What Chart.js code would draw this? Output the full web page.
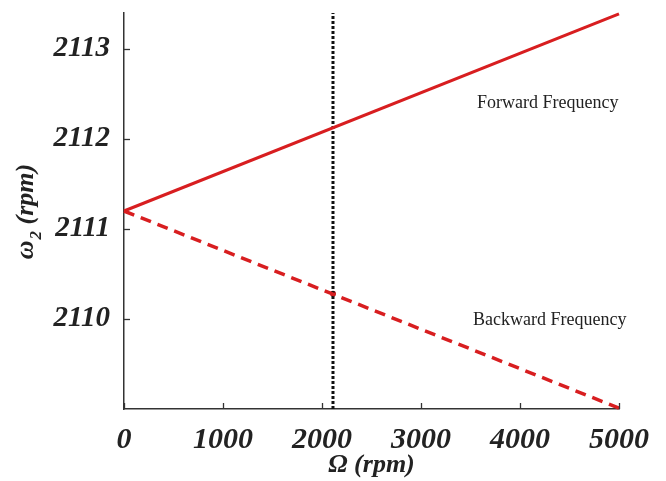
<!DOCTYPE html>
<html>
<head>
<meta charset="utf-8">
<script src="https://cdn.jsdelivr.net/npm/chart.js@4.4.1/dist/chart.umd.min.js"></script>
<style>
  html, body { margin: 0; padding: 0; background: #fff; }
  #wrap { width: 666px; height: 481px; }
</style>
</head>
<body>
<div id="wrap"><canvas id="chart" width="666" height="481"></canvas></div>
<script>
// values
const speed = [0, 5000];                 // Ω (rpm)
const forward = [2111.2, 2113.39];       // forward whirl ω2
const backward = [2111.2, 2109.01];      // backward whirl ω2
const critSpeed = 2111;                  // Ω = ω line
const critBackward = 2110.28;
const yRange = [2109.0, 2113.4];
const xTicks = [0, 1000, 2000, 3000, 4000, 5000];
const yTicks = [2110, 2111, 2112, 2113];

const serif = '"Liberation Serif", "Times New Roman", serif';
const red = "rgb(216,30,32)";

// ticks drawn inside the axes, texts and y title
const extras = {
  id: "extras",
  afterDraw(c) {
    const g = c.ctx, x = c.scales.x, y = c.scales.y;
    const a = c.chartArea;
    g.save();
    g.strokeStyle = "#333";
    g.lineWidth = 1.3;
    xTicks.forEach(v => {
      const px = Math.round(x.getPixelForValue(v)) + 0.5;
      g.beginPath(); g.moveTo(px, a.bottom); g.lineTo(px, a.bottom - 6); g.stroke();
    });
    yTicks.forEach(v => {
      const py = Math.round(y.getPixelForValue(v)) + 0.5;
      g.beginPath(); g.moveTo(a.left, py); g.lineTo(a.left + 6, py); g.stroke();
    });

    g.fillStyle = "#222";
    g.font = "18px " + serif;
    g.textBaseline = "middle";
    g.textAlign = "left";
    g.fillText("Forward Frequency", x.getPixelForValue(3565), y.getPixelForValue(2112.4));
    g.fillText("Backward Frequency", x.getPixelForValue(3525), y.getPixelForValue(2109.99));

    // y title with subscript
    g.translate(25, 212);
    g.rotate(-Math.PI / 2);
    g.font = "italic bold 26px " + serif;
    const w1 = g.measureText("ω").width;
    g.font = "italic bold 17px " + serif;
    const w2 = g.measureText("2").width;
    g.font = "italic bold 26px " + serif;
    const w3 = g.measureText(" (rpm)").width;
    let sx = -(w1 + w2 + w3) / 2;
    g.textBaseline = "alphabetic";
    g.fillText("ω", sx, 8);
    g.font = "italic bold 17px " + serif;
    g.fillText("2", sx + w1 + 1, 16);
    g.font = "italic bold 26px " + serif;
    g.fillText(" (rpm)", sx + w1 + w2 + 1, 8);
    g.restore();
  }
};

const plain = v => String(v);

const ctx = document.getElementById("chart");
const chart = new Chart(ctx, {
  type: "line",
  data: {
    datasets: [{
      label: "Forward Frequency",
      data: speed.map((s, i) => ({ x: s, y: forward[i] })),
      borderColor: red,
      borderWidth: 3,
      pointRadius: 0,
      clip: false
    }, {
      label: "Backward Frequency",
      data: speed.map((s, i) => ({ x: s, y: backward[i] })),
      borderColor: red,
      borderWidth: 3.5,
      borderDash: [11, 7],
      pointRadius: 0,
      clip: false
    }, {
      label: "Ω = ω",
      data: yRange.map(v => ({ x: critSpeed, y: v })),
      borderColor: "#111",
      borderWidth: 3,
      borderDash: [3, 2],
      pointRadius: 0,
      clip: false
    }, {
      label: "crossing",
      data: [{ x: critSpeed, y: critBackward }],
      showLine: false,
      pointRadius: 3,
      pointBackgroundColor: "rgb(190,20,20)",
      pointBorderWidth: 0
    }]
  },
  options: {
    responsive: false,
    animation: false,
    layout: { padding: { top: 13, right: 47, left: 0, bottom: 0 } },
    plugins: { legend: { display: false }, tooltip: { enabled: false } },
    scales: {
      x: {
        type: "linear",
        min: 0, max: 5000,
        afterFit: s => { s.height = 72; s.paddingLeft = 0; s.paddingRight = 0; },
        afterBuildTicks: s => { s.ticks = xTicks.map(v => ({ value: v })); },
        grid: { display: false },
        border: { display: true, color: "#333", width: 1.5 },
        ticks: {
          color: "#222", padding: 5, maxRotation: 0, callback: plain,
          font: { family: serif, size: 30, style: "italic", weight: "bold" }
        },
        title: {
          display: true, text: "Ω (rpm)", color: "#222",
          padding: { top: 0, bottom: 0 },
          font: { family: serif, size: 26, style: "italic", weight: "bold" }
        }
      },
      y: {
        min: yRange[0], max: yRange[1],
        afterFit: s => { s.width = 124; s.paddingTop = 0; s.paddingBottom = 0; },
        afterBuildTicks: s => { s.ticks = yTicks.map(v => ({ value: v })); },
        grid: { display: false },
        border: { display: true, color: "#333", width: 1.5 },
        ticks: {
          color: "#222", padding: 6, callback: plain,
          font: { family: serif, size: 29, style: "italic", weight: "bold" }
        }
      }
    }
  },
  plugins: [extras]
});
</script>
</body>
</html>
